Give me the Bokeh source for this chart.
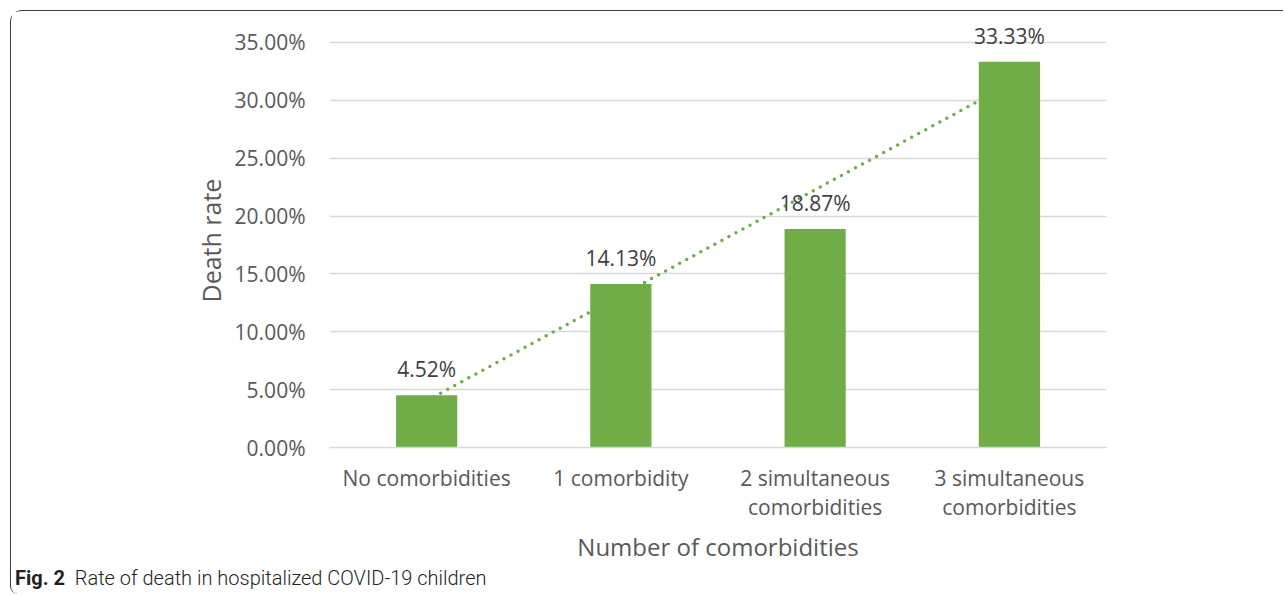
from bokeh.plotting import figure
from bokeh.models import (ColumnDataSource, FixedTicker, PrintfTickFormatter, LabelSet, Range1d, Title, Div)
from bokeh.layouts import column
from bokeh.core.properties import value
from bokeh.embed import file_html
from bokeh.resources import INLINE

categories = ["No comorbidities", "1 comorbidity", "2 simultaneous\ncomorbidities", "3 simultaneous\ncomorbidities"]
positions = [1, 2, 3, 4]
death_rate = [4.52, 14.13, 18.87, 33.33]
y_ticks = [0, 5, 10, 15, 20, 25, 30, 35]

# linear trendline (least squares) computed from the data
n = len(positions)
mx = sum(positions) / n
my = sum(death_rate) / n
slope = sum((x - mx) * (y - my) for x, y in zip(positions, death_rate)) / sum((x - mx) ** 2 for x in positions)
intercept = my - slope * mx
trend_x = [positions[0], positions[-1]]
trend_y = [intercept + slope * x for x in trend_x]

GREEN = "#70AD47"
FONT = "Open Sans"

src = ColumnDataSource(dict(x=positions, y=death_rate, lab=[f"{v:.2f}%" for v in death_rate]))

# y range extends a little above 35% so the top data label is not clipped
p = figure(width=1272, height=556, output_backend="svg", toolbar_location=None,
           x_range=Range1d(0.5, 4.5), y_range=Range1d(0, 37.5),
           min_border_left=318, min_border_right=177, min_border_top=2, min_border_bottom=120)
p.outline_line_color = None
p.background_fill_color = "white"
p.border_fill_color = "white"

p.line(trend_x, trend_y, line_color=GREEN, line_width=3.5, line_dash="0 8", line_cap="round")
p.vbar(x="x", top="y", width=0.315, source=src, fill_color=GREEN, line_color=None)

p.add_layout(LabelSet(x="x", y="y", text="lab", source=src, text_align="center",
                      text_baseline="alphabetic", y_offset=18, text_font=value(FONT),
                      text_font_size="21px", text_color="#404040"))

# axes
p.xaxis.ticker = FixedTicker(ticks=positions)
p.xaxis.major_label_overrides = {pos: c for pos, c in zip(positions, categories)}
p.yaxis.ticker = FixedTicker(ticks=y_ticks)
p.yaxis.formatter = PrintfTickFormatter(format="%.2f%%")
for ax in (p.xaxis, p.yaxis):
    ax.major_tick_line_color = None
    ax.minor_tick_line_color = None
    ax.major_label_text_font = FONT
    ax.major_label_text_font_size = "21px"
    ax.major_label_text_color = "#595959"
    ax.axis_label_text_font = FONT
    ax.axis_label_text_font_size = "24px"
    ax.axis_label_text_font_style = "normal"
    ax.axis_label_text_color = "#595959"
p.xaxis.axis_line_color = "#d9d9d9"
p.xaxis.axis_line_width = 1.5
p.yaxis.axis_line_color = None
p.xaxis.axis_label = "Number of comorbidities"
p.xaxis.major_label_standoff = 10
p.xaxis.major_label_text_line_height = 1.05
p.xaxis.axis_label_standoff = 6
p.yaxis.major_label_standoff = 18

# y-axis title, positioned along the 0-35% part of the axis
p.add_layout(Title(text="Death rate", align="left", offset=145, standoff=8,
                   text_font=FONT, text_font_size="25px", text_font_style="normal",
                   text_color="#595959"), "left")

p.xgrid.grid_line_color = None
p.ygrid.ticker = FixedTicker(ticks=y_ticks)
p.ygrid.grid_line_color = "#d9d9d9"
p.ygrid.grid_line_width = 1.5

caption = Div(text="<b style='font-weight:700'>Fig. 2</b>&nbsp; Rate of death in hospitalized COVID-19 children",
              width=700, height=27, margin=(0, 0, 0, 0),
              styles={"font-family": "Roboto", "font-size": "20px", "font-weight": "300",
                      "color": "#231f20", "padding-left": "4px", "padding-top": "0px",
                      "line-height": "22px"})

layout = column(p, caption, margin=(10, 0, 0, 10), spacing=0,
                styles={"border-left": "1.5px solid #3c3c3c", "border-top": "1.5px solid #3c3c3c",
                        "border-top-left-radius": "12px", "border-bottom-left-radius": "8px",
                        "background-color": "white"})

open("out.html", "w").write(file_html(layout, INLINE))
